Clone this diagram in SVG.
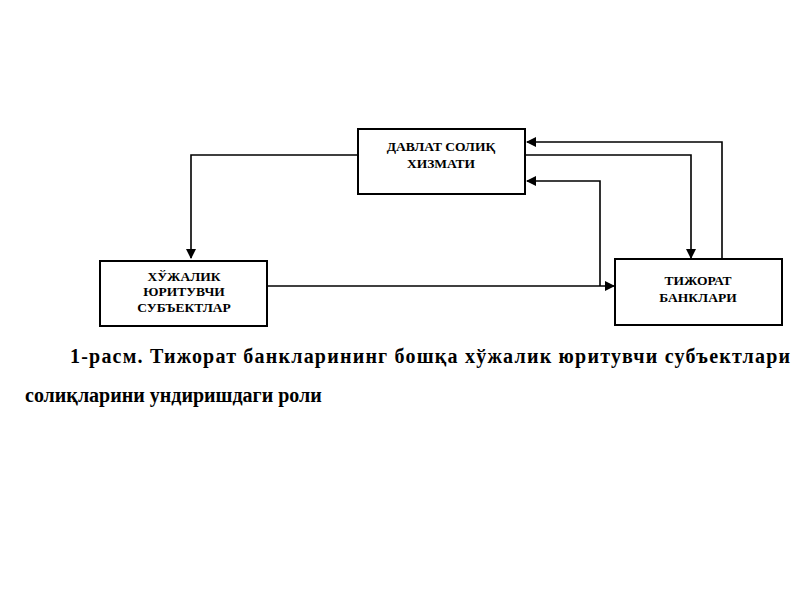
<svg xmlns="http://www.w3.org/2000/svg" width="800" height="600" viewBox="0 0 800 600">
<style>
.box{fill:#fff;stroke:#000;stroke-width:2}
.lbl{font-family:"Liberation Serif",serif;font-weight:bold;font-size:13.5px;text-anchor:middle}
.cap{font-family:"Liberation Serif",serif;font-weight:bold;font-size:20px}
.c{fill:none;stroke:#000;stroke-width:1.6}
</style>
<defs><marker id="a" markerWidth="10" markerHeight="10" refX="9" refY="5" orient="auto" markerUnits="userSpaceOnUse"><path d="M0,0 L10,5 L0,10 Z"/></marker></defs>
<rect width="800" height="600" fill="#fff"/>
<g id="connectors">
<path class="c" d="M358,155 H191 V258" marker-end="url(#a)"/>
<path class="c" d="M267,286 H614" marker-end="url(#a)"/>
<path class="c" d="M600,286 V181 H527" marker-end="url(#a)"/>
<path class="c" d="M525,155 H691 V258" marker-end="url(#a)"/>
<path class="c" d="M722,259 V142 H527" marker-end="url(#a)"/>
</g>
<g id="dsx"><rect class="box" x="358" y="129" width="167" height="65"/>
<text class="lbl" x="441" y="151">ДАВЛАТ СОЛИҚ</text><text class="lbl" x="441" y="168">ХИЗМАТИ</text></g>
<g id="hjs"><rect class="box" x="100" y="261" width="167" height="65"/>
<text class="lbl" x="184" y="281">ХЎЖАЛИК</text><text class="lbl" x="184" y="296">ЮРИТУВЧИ</text><text class="lbl" x="184" y="312">СУБЪЕКТЛАР</text></g>
<g id="tb"><rect class="box" x="615" y="259" width="167" height="66"/>
<text class="lbl" x="698" y="285">ТИЖОРАТ</text><text class="lbl" x="698" y="302">БАНКЛАРИ</text></g>
<text class="cap" x="70" y="363" textLength="720" lengthAdjust="spacing">1-расм. Тижорат банкларининг бошқа хўжалик юритувчи субъектлари</text>
<text class="cap" x="25" y="402">солиқларини ундиришдаги роли</text>
</svg>
